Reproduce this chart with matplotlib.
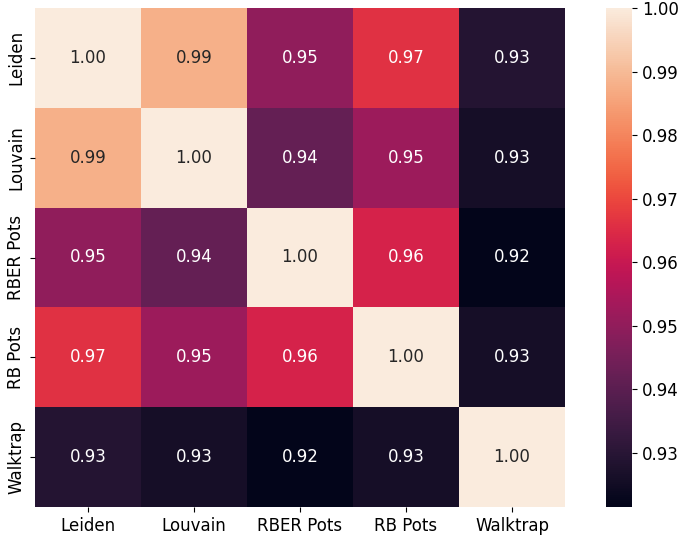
import numpy as np
import matplotlib.pyplot as plt
import seaborn as sns

# Methods compared
methods = ['Leiden', 'Louvain', 'RBER Pots', 'RB Pots', 'Walktrap']

# Pairwise similarity (matrix is symmetric)
leiden = [1.000, 0.988, 0.950, 0.966, 0.929]
louvain = [0.988, 1.000, 0.942, 0.952, 0.926]
rber_pots = [0.950, 0.942, 1.000, 0.963, 0.9215]
rb_pots = [0.966, 0.952, 0.963, 1.000, 0.926]
walktrap = [0.929, 0.926, 0.9215, 0.926, 1.000]

matrix = np.array([leiden, louvain, rber_pots, rb_pots, walktrap])

fig = plt.figure(figsize=(6.85, 5.43), dpi=100)
ax = fig.add_axes([35/685, 36/543, 530/685, 499/543])
cax = fig.add_axes([606/685, 36/543, 26/685, 499/543])

sns.heatmap(matrix, ax=ax, cbar_ax=cax, cmap='rocket', annot=True, fmt='.2f',
            annot_kws={'size': 12}, xticklabels=methods, yticklabels=methods)

ax.tick_params(axis='both', labelsize=12)
cax.tick_params(labelsize=12)
cax.set_yticks([0.93, 0.94, 0.95, 0.96, 0.97, 0.98, 0.99, 1.00])

fig.savefig('out.png', dpi=100)
